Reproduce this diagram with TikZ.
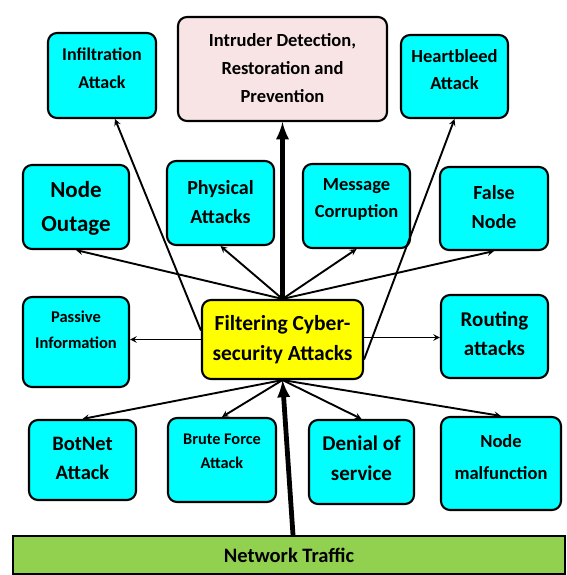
\documentclass[tikz,border=0pt]{standalone}
\usepackage{fontspec}
\setmainfont{Carlito}
\usepackage{xcolor}
\usepackage{tikz}
\usetikzlibrary{arrows}

\definecolor{boxcyan}{HTML}{00FFFF}
\definecolor{boxpink}{HTML}{F8E4E4}
\definecolor{boxyellow}{HTML}{FFFF00}
\definecolor{trafficgreen}{HTML}{92D050}

\begin{document}
\begin{tikzpicture}
[x=1pt, y=-1pt,
    every node/.style={fill=boxcyan, rectangle, rounded corners=9pt,
    draw=black, line width=2.1pt, align=center, inner sep=0pt},
    txt/.style 2 args={font=\bfseries\fontsize{#1}{#2}\selectfont},
    boxsize/.style 2 args={minimum width=#1, minimum height=#2},
    textlift/.style={text depth=#1},
    linkarrow/.style={draw=black, line width=1.9pt, -stealth},
    flowarrow/.style={draw=black, line width=4.8pt, -latex}
    ]
    \useasboundingbox (0,0) rectangle (566,575);

    % top row
    \node (infil) [boxsize={108pt}{85pt}, txt={18}{28}, textlift=15pt] at (102,75.5) {Infiltration\\Attack};
    \node (intruder) [fill=boxpink, boxsize={209pt}{104pt}, txt={18.5}{28}, textlift=2pt] at (282.5,69) {Intruder Detection,\\Restoration and\\Prevention};
    \node (heart) [boxsize={107pt}{83pt}, txt={18.5}{27}, textlift=14pt] at (454.5,76.5) {Heartbleed\\Attack};

    % second row
    \node (outage) [boxsize={106pt}{84pt}, txt={23}{34}, textlift=2pt] at (76,207) {Node\\Outage};
    \node (phys) [boxsize={107pt}{84pt}, txt={20}{29}, textlift=3pt] at (220.5,203) {Physical\\Attacks};
    \node (msg) [boxsize={107pt}{84pt}, txt={18.5}{27}, textlift=15pt] at (356.5,206) {Message\\Corruption};
    \node (false) [boxsize={108pt}{83pt}, txt={20}{29}, textlift=4pt] at (494,208.5) {False\\Node};

    % middle row
    \node (passive) [boxsize={106pt}{90pt}, txt={16.5}{26}, textlift=24pt] at (76,342) {Passive\\Information};
    \node (filter) [fill=boxyellow, boxsize={161pt}{79pt}, txt={21.5}{30}, textlift=3pt] at (282.5,339.5) {Filtering Cyber-\\security Attacks};
    \node (routing) [boxsize={107pt}{83pt}, txt={21}{29}, textlift=6pt] at (494.5,336.5) {Routing\\attacks};

    % bottom row
    \node (botnet) [boxsize={107pt}{80pt}, txt={20.5}{29}, textlift=3pt] at (82.5,460) {BotNet\\Attack};
    \node (brute) [boxsize={108pt}{84pt}, txt={16.3}{24}, textlift=18pt] at (222,460) {Brute Force\\Attack};
    \node (denial) [boxsize={105pt}{84pt}, txt={21}{30}, textlift=8pt] at (361.5,462) {Denial of\\service};
    \node (malfunc) [boxsize={120pt}{93pt}, txt={18.5}{32}, textlift=13pt] at (501,463.5) {Node\\malfunction};

    \node (traffic) [fill=trafficgreen, sharp corners, boxsize={552pt}{38pt}, txt={20.5}{24}] at (289,555) {Network Traffic};

    % upward fan
    \draw [flowarrow] (filter.north) -- (intruder.south);
    \foreach \n in {outage, phys, msg, false}
        \draw [linkarrow] (filter.north) -- (\n.south);
    \draw [linkarrow] ([yshift=9pt]filter.west) -- ([xshift=13pt]infil.south);
    \draw [linkarrow] ([yshift=-20pt]filter.east) -- (heart.south);

    % sideways
    \draw [linkarrow] (filter.west) -- (filter.west -| passive.east);
    \draw [linkarrow] ([yshift=2pt]filter.east) -- ([yshift=2pt]filter.east -| routing.west);

    % downward fan
    \foreach \n in {botnet, brute, denial, malfunc}
        \draw [linkarrow] (filter.south) -- (\n.north);
    \draw [flowarrow] ([xshift=4pt]traffic.north) -- (filter.south);
\end{tikzpicture}
\end{document}
